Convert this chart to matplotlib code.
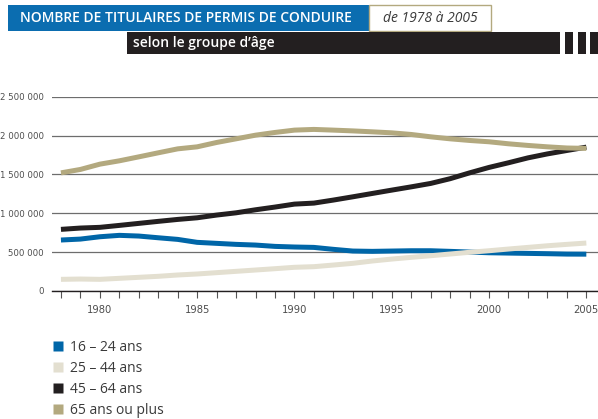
import matplotlib
matplotlib.use("Agg")
import matplotlib.pyplot as plt
from matplotlib.patches import Rectangle
from matplotlib.lines import Line2D
from matplotlib.ticker import FuncFormatter

years = list(range(1978, 2006))
g16_24 = [656, 668, 698, 716, 707, 685, 664, 626, 613, 600, 591, 574, 566,
          561, 536, 514, 510, 514, 518, 518, 510, 501, 492, 488, 484, 480, 475, 474]
g25_44 = [150, 154, 150, 163, 176, 189, 206, 219, 236, 253, 270, 287, 305,
          313, 334, 356, 386, 411, 433, 454, 476, 498, 518, 540, 561, 582, 600, 617]
g45_64 = [793, 810, 819, 844, 870, 896, 921, 942, 977, 1006, 1045, 1080, 1118,
          1131, 1170, 1212, 1255, 1298, 1340, 1384, 1445, 1520, 1590, 1650, 1713, 1764, 1808, 1851]
g65 = [1520, 1564, 1632, 1675, 1726, 1778, 1829, 1855, 1911, 1958, 2005, 2040, 2070,
       2079, 2070, 2060, 2048, 2035, 2014, 1984, 1958, 1937, 1920, 1894, 1873, 1855, 1840, 1835]

labels = ["16 – 24 ans", "25 – 44 ans", "45 – 64 ans", "65 ans ou plus"]
colors = ["#0066a8", "#e3dfd0", "#231f20", "#b3a97f"]
series = [g16_24, g25_44, g45_64, g65]

W, H = 598, 419
fig = plt.figure(figsize=(W / 100, H / 100), dpi=100)
sans = ["Open Sans", "DejaVu Sans"]

def box(x0, y0, x1, y1, **kw):
    fig.patches.append(Rectangle((x0 / W, 1 - y1 / H), (x1 - x0) / W, (y1 - y0) / H,
                                 transform=fig.transFigure, **kw))

# header
box(8, 5, 369, 31, facecolor="#0b6db0", edgecolor="none")
box(369, 5, 491, 31, facecolor="white", edgecolor="#b3a97f", linewidth=1)
box(127, 32, 560, 54, facecolor="#231f20", edgecolor="none")
for x0, x1 in [(565, 573), (578, 586), (590, 598)]:
    box(x0, 32, x1, 54, facecolor="#231f20", edgecolor="none")
fig.text(20 / W, 1 - 18.5 / H, "NOMBRE DE TITULAIRES DE PERMIS DE CONDUIRE", color="white",
         fontsize=10, fontweight="semibold", family=sans, va="center", ha="left")
fig.text(430 / W, 1 - 18.5 / H, "de 1978 à 2005", color="#3a3a3a", fontsize=10,
         style="italic", family=sans, va="center", ha="center")
fig.text(133 / W, 1 - 43.5 / H, "selon le groupe d’âge", color="white",
         fontsize=10, fontweight="semibold", family=sans, va="center", ha="left")

# chart
ax = fig.add_axes([52 / W, 1 - 291 / H, 546 / W, (291 - 96.7) / H])
for vals, c in zip(series, colors):
    ax.plot(years, [v * 1000 for v in vals], color=c, linewidth=3.6,
            solid_capstyle="butt", zorder=3)
ax.set_xlim(1977.54, 2005.6)
ax.set_ylim(0, 2500000)
ax.set_yticks(range(0, 2500001, 500000))
ax.yaxis.set_major_formatter(FuncFormatter(lambda v, p: f"{int(v):,}".replace(",", " ")))
ax.grid(axis="y", color="#6d6d6d", linewidth=0.9)
ax.set_axisbelow(True)
for s in ["top", "right", "left"]:
    ax.spines[s].set_visible(False)
ax.spines["bottom"].set_color("#231f20")
ax.spines["bottom"].set_linewidth(1)
ax.set_xticks(years)
ax.set_xticklabels([str(y) if y % 5 == 0 else "" for y in years])
ax.tick_params(axis="x", length=5, width=0.8, color="#555555", labelsize=8,
               labelcolor="#4d4d4d", pad=5)
ax.tick_params(axis="y", length=0, labelsize=6.8, labelcolor="#4d4d4d", pad=6)
for t in ax.get_xticklabels() + ax.get_yticklabels():
    t.set_family(["DejaVu Sans"])
    t.set_stretch("condensed")

handles = [Line2D([], [], marker="s", linestyle="none", markersize=7,
                  markerfacecolor=c, markeredgecolor="none") for c in colors]
fig.legend(handles, labels, loc="upper left", bbox_to_anchor=(52 / W, 1 - 340 / H),
           frameon=False, handlelength=0.8, handletextpad=0.5,
           labelspacing=0.44, borderaxespad=0, borderpad=0,
           prop={"family": sans, "size": 10}, labelcolor="#3a3a3a")

fig.savefig("out.png", dpi=100)
